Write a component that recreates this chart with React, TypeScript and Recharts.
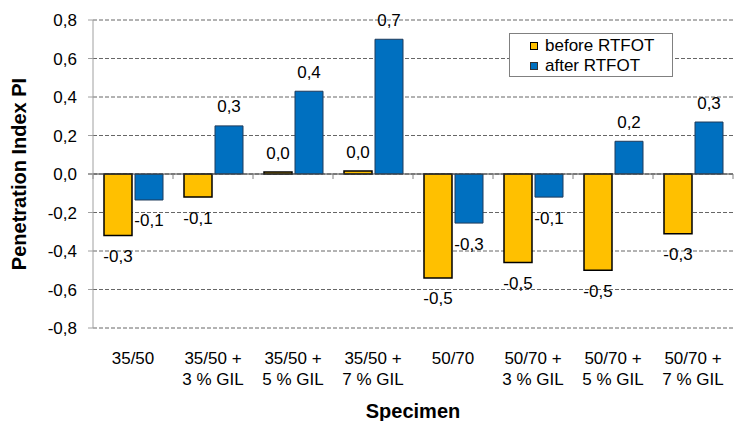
import React from "react";
import { Bar, BarChart, CartesianGrid, Label, LabelList, ReferenceLine, XAxis, YAxis } from "recharts";

const FONT = "'Liberation Sans', Arial, sans-serif";

const specimens = [
  "35/50",
  "35/50 +\n3 % GIL",
  "35/50 +\n5 % GIL",
  "35/50 +\n7 % GIL",
  "50/70",
  "50/70 +\n3 % GIL",
  "50/70 +\n5 % GIL",
  "50/70 +\n7 % GIL",
];
const beforeRtfot = [-0.32, -0.12, 0.01, 0.015, -0.54, -0.46, -0.5, -0.31];
const afterRtfot = [-0.135, 0.25, 0.43, 0.7, -0.255, -0.12, 0.17, 0.27];
const yTicks = [-0.8, -0.6, -0.4, -0.2, 0, 0.2, 0.4, 0.6, 0.8];

const data = specimens.map((name, i) => ({ name, before: beforeRtfot[i], after: afterRtfot[i] }));

const fmt = (v: number) => v.toFixed(1).replace(".", ",");

function CategoryTick(props: any) {
  const { x, y, payload } = props;
  const lines = String(payload.value).split("\n");
  return (
    <text x={x} y={y} textAnchor="middle" fontFamily={FONT} fontSize={17} fill="#000">
      {lines.map((line, i) => (
        <tspan key={i} x={x} dy={i === 0 ? 34 : 21}>
          {line}
        </tspan>
      ))}
    </text>
  );
}

function ValueLabel(props: any) {
  const { x, y, width, height, value } = props;
  const v = Number(value);
  const top = Math.min(y, y + height);
  const bottom = Math.max(y, y + height);
  const ty = v < 0 ? bottom + 21 : top - 19;
  return (
    <text x={x + width / 2} y={ty} textAnchor="middle" dominantBaseline="central" fontFamily={FONT} fontSize={17} fill="#000">
      {fmt(v)}
    </text>
  );
}

// zero line with little downward ticks at category borders (Excel style)
function ZeroLine(props: any) {
  const { x1, x2, y1 } = props;
  const step = (x2 - x1) / specimens.length;
  const marks = [];
  for (let i = 0; i <= specimens.length; i++) {
    const mx = x1 + step * i;
    marks.push(<line key={i} x1={mx} x2={mx} y1={y1} y2={y1 + 5} stroke="#808080" />);
  }
  return (
    <g>
      <line x1={x1 - 5} x2={x2} y1={y1} y2={y1} stroke="#404040" strokeWidth={1} />
      {marks}
    </g>
  );
}

function LegendBox() {
  const items = [
    { label: "before RTFOT", color: "#FFC000", border: "#000" },
    { label: "after RTFOT", color: "#0070C0", border: "#333" },
  ];
  return (
    <div
      style={{
        position: "absolute",
        left: 509,
        top: 33,
        width: 164,
        height: 44,
        boxSizing: "border-box",
        border: "1px solid #808080",
        background: "#fff",
        fontFamily: FONT,
        fontSize: 17,
        paddingLeft: 20,
        paddingTop: 2,
      }}
    >
      {items.map((it) => (
        <div key={it.label} style={{ display: "flex", alignItems: "center", height: 20 }}>
          <span
            style={{
              display: "inline-block",
              width: 6,
              height: 6,
              background: it.color,
              border: `1px solid ${it.border}`,
              marginRight: 7,
            }}
          />
          <span>{it.label}</span>
        </div>
      ))}
    </div>
  );
}

export default function App() {
  return (
    <div style={{ position: "absolute", left: 0, top: 0, width: 734, height: 421, background: "#fff" }}>
      <BarChart width={734} height={421} data={data} margin={{ top: 20, right: 1, left: 0, bottom: 0 }} barSize={28} barGap={3}>
        <CartesianGrid vertical={false} stroke="#666" strokeDasharray="4 2" />
        <XAxis dataKey="name" axisLine={false} tickLine={false} tickSize={0} height={93} interval={0} tick={<CategoryTick />}>
          <Label value="Specimen" position="insideBottom" offset={3} style={{ fontFamily: FONT, fontSize: 20, fontWeight: "bold", fill: "#000" }} />
        </XAxis>
        <YAxis
          width={93}
          domain={[-0.8, 0.8]}
          ticks={yTicks}
          interval={0}
          tickFormatter={fmt}
          axisLine={{ stroke: "#a0a0a0" }}
          tickLine={{ stroke: "#a0a0a0" }}
          tickSize={5}
          tickMargin={11}
          tick={{ fontFamily: FONT, fontSize: 17, fill: "#000" }}
        >
          <Label
            content={(p: any) => {
              const vb = p.viewBox;
              const cy = vb.y + vb.height / 2;
              return (
                <text x={19} y={cy} transform={`rotate(-90 19 ${cy})`} textAnchor="middle" dominantBaseline="central" fontFamily={FONT} fontSize={20} fontWeight="bold" fill="#000">
                  Penetration Index PI
                </text>
              );
            }}
          />
        </YAxis>
        <ReferenceLine y={0} shape={<ZeroLine />} />
        <Bar dataKey="before" fill="#FFC000" stroke="#000" strokeWidth={1.5} isAnimationActive={false}>
          <LabelList dataKey="before" content={<ValueLabel />} />
        </Bar>
        <Bar dataKey="after" fill="#0070C0" stroke="#1e3a5a" strokeWidth={1} isAnimationActive={false}>
          <LabelList dataKey="after" content={<ValueLabel />} />
        </Bar>
      </BarChart>
      <LegendBox />
    </div>
  );
}
